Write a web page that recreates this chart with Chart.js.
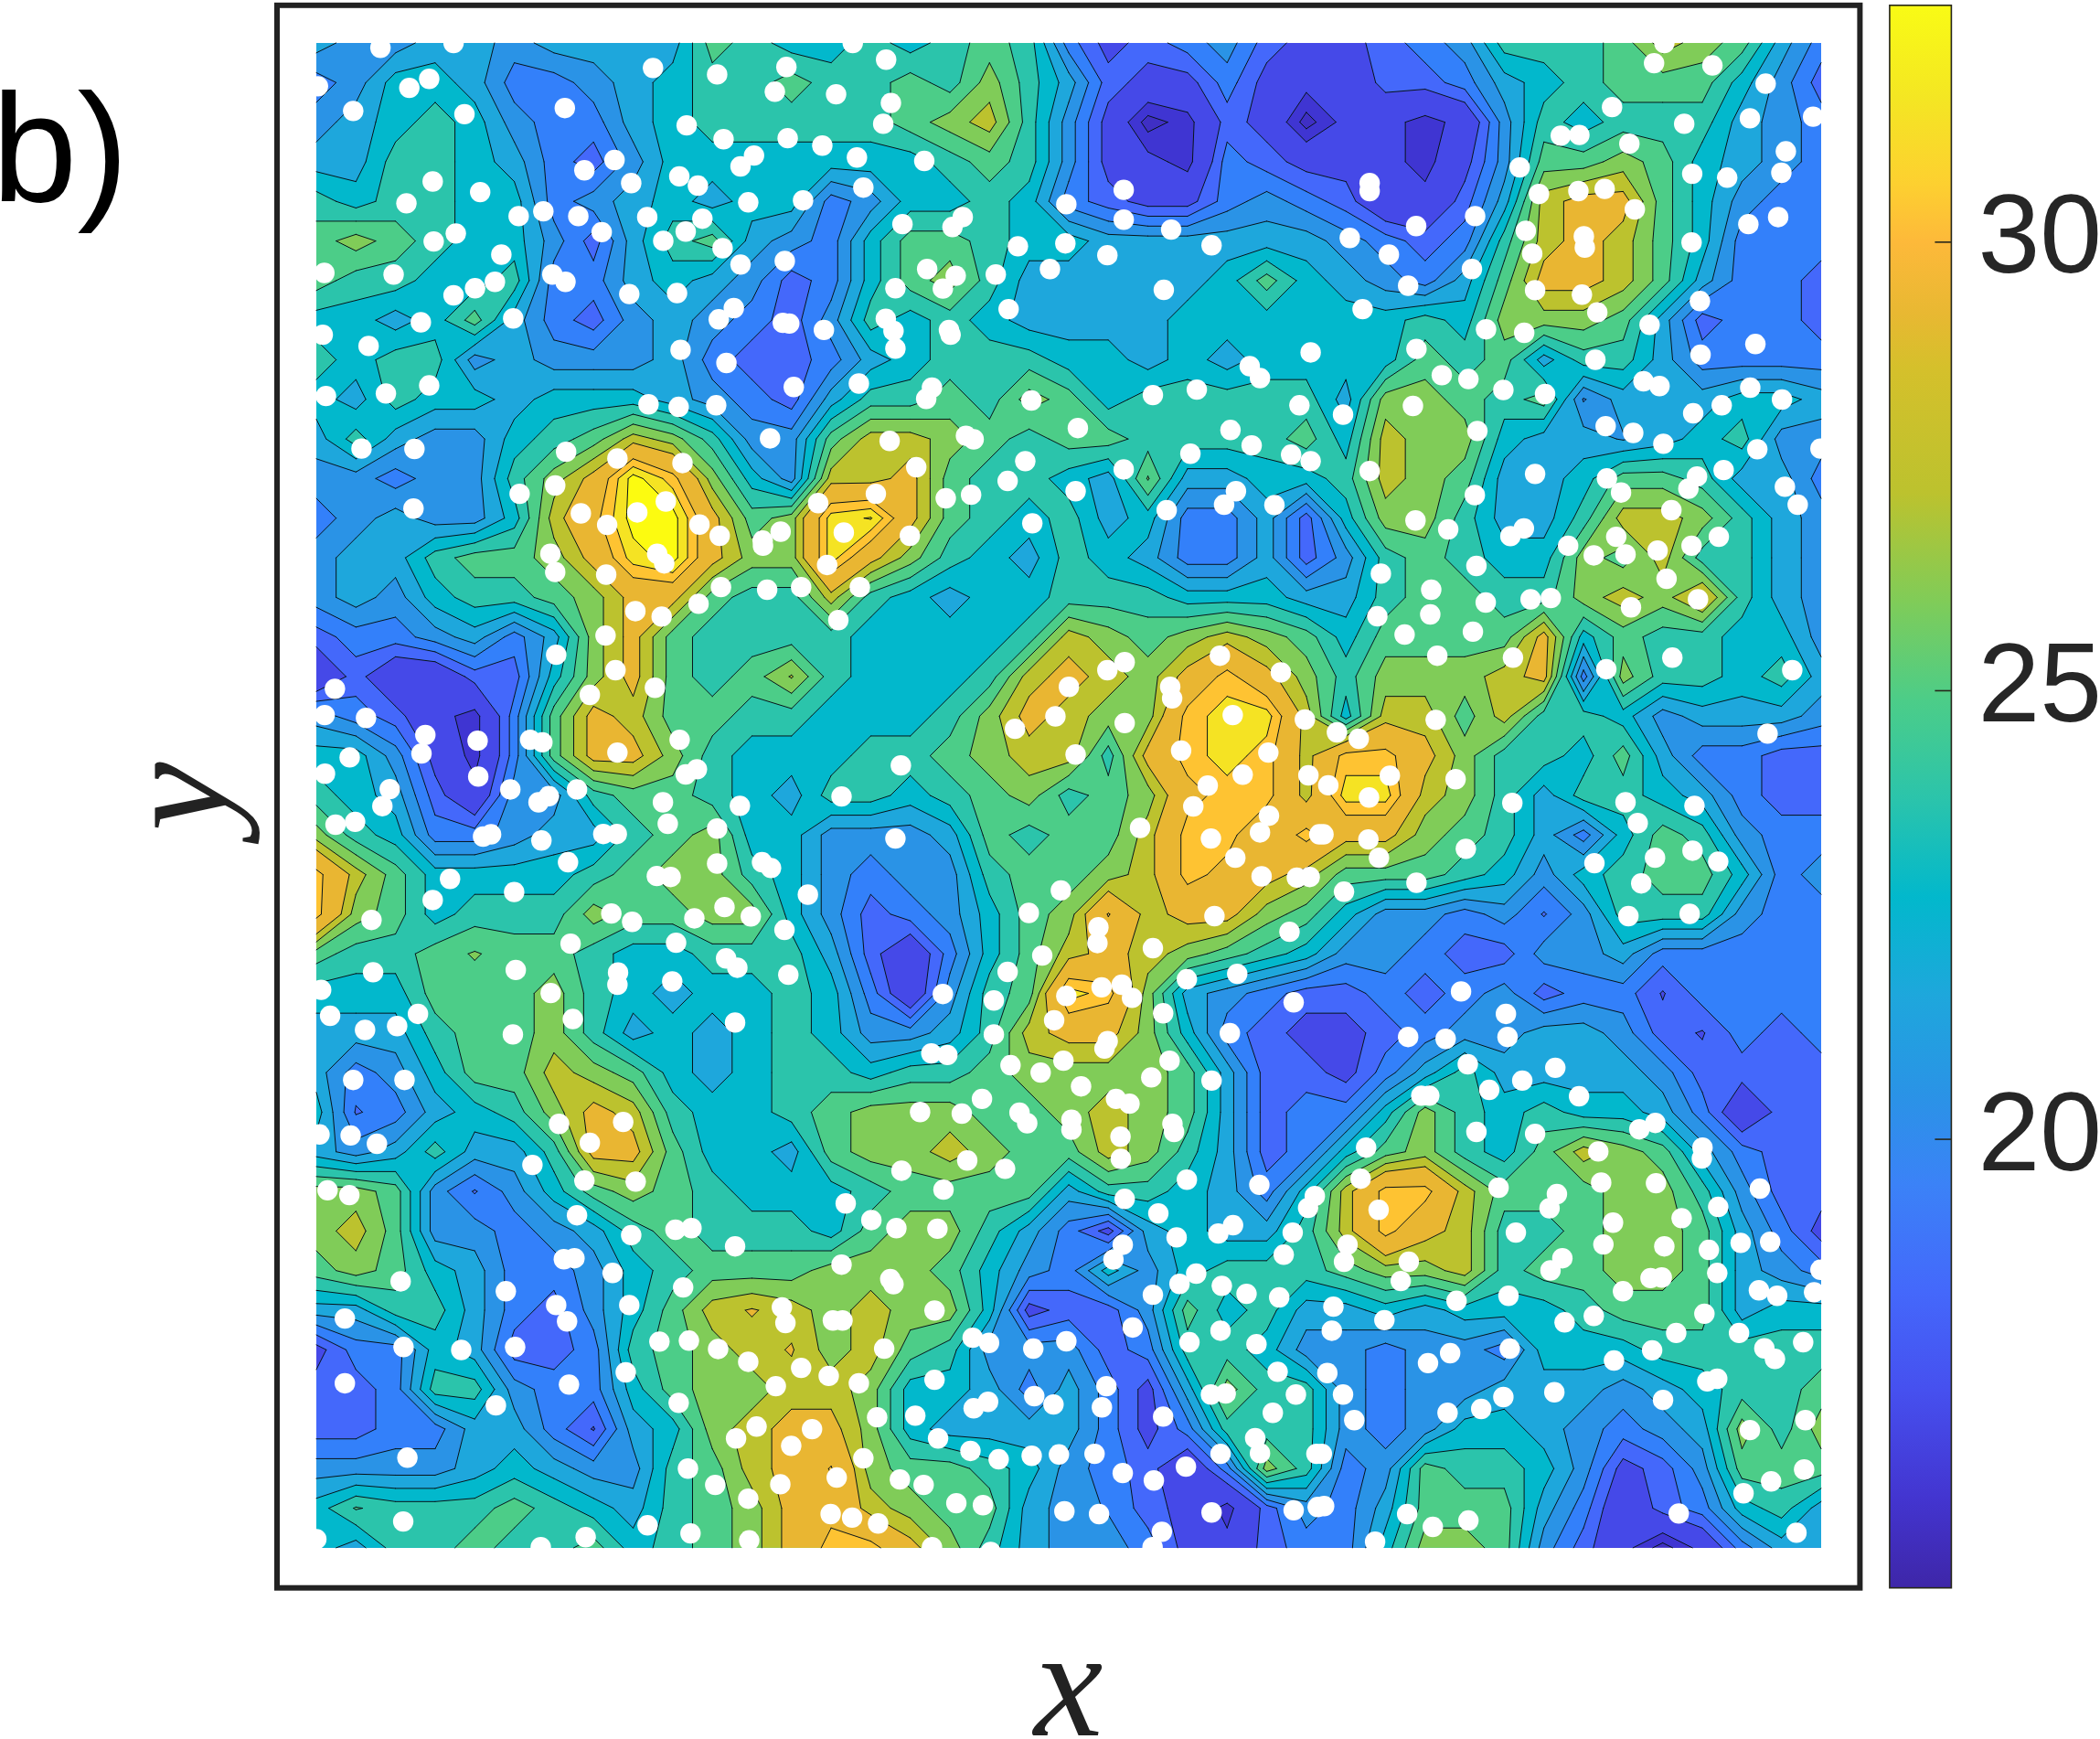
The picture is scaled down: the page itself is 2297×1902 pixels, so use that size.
<!DOCTYPE html>
<html>
<head>
<meta charset="utf-8">
<title>b)</title>
<style>
  html, body { margin: 0; padding: 0; background: #fff; }
  canvas { display: block; }
</style>
<script src="https://cdn.jsdelivr.net/npm/chart.js@4/dist/chart.umd.min.js"></script>
</head>
<body>
<canvas id="chart" width="2297" height="1902"></canvas>
<script>
/* =====================================
   Data
===================================== */
const gridPos = [0,123.5,247,370.5,494,617.5,741,864.5,988,1111.5,1235,1358.5,1482,1605.5,1729,1852.5,1976,2099.5,2223,2346.5,2470,2593.5,2717,2840.5,2964,3087.5,3211,3334.5,3458,3581.5,3705,3828.5,3952,4075.5,4199,4322.5,4446,4569.5,4693];

const surface = [
[22,21,21,22,22,21,22,22,22,22,25,24,23,23,24,23,24,25,24,20,18,19,20,21,19,18,18,19,20,21,24,24,24,25,27,26,25,22,20],
[20,21,23,23,22,20,20,21,22,23,24,24,25,24,24,25,24,26,24,22,19,18,18,20,18,17,17,19,19,20,22,23,24,25,25,25,23,21,19],
[21,22,23,24,23,21,20,20,22,23,24,24,24,24,24,25,26,27,24,21,18,15,16,19,18,15,17,17,16,17,21,24,23,24,24,24,22,21,20],
[22,22,24,24,23,22,20,19,21,23,23,23,23,23,23,23,24,25,24,21,18,17,16,20,19,18,18,17,16,18,21,25,25,26,25,23,22,21,20],
[24,23,24,24,23,23,20,21,22,23,22,23,23,20,21,23,23,24,23,20,19,18,18,20,21,20,19,17,17,19,22,27,28,28,25,23,21,20,20],
[25,26,25,24,23,23,21,19,22,24,25,22,21,20,23,25,25,24,23,23,22,22,22,22,22,22,21,20,19,20,24,27,28,27,25,23,20,20,20],
[25,24,24,23,23,24,20,20,22,23,22,21,19,20,23,25,26,24,22,22,22,22,22,23,25,23,22,21,20,22,25,28,28,27,25,22,20,20,19],
[23,23,22,23,25,22,20,19,21,22,21,20,19,21,24,23,24,23,22,22,22,22,23,23,23,23,23,23,24,23,26,26,26,25,22,19,20,20,19],
[24,23,24,24,21,22,21,21,21,22,20,19,19,20,22,23,24,24,24,23,23,22,23,22,23,23,23,23,25,24,25,22,24,24,22,20,20,20,20],
[23,22,24,23,23,22,23,23,23,22,21,20,19,22,24,24,25,24,26,25,23,24,24,24,24,24,22,26,26,25,24,25,20.4,22,22,22,23,23,22],
[22,24,22,21,21,23,24,25,27,26,24,21,21,25,27,27,26,25,24,25,25,24,24,24,24,25,23,27,26,26,23,22,22,21.4,22,23,24,21,21],
[21,21,20,21,21,24,26,28,32,30,26,23,21,27,27,28,25,24,24,23,22,25.6,22,22,23,23,24,27,26,25,22,22,23,25,25,24,22,22,20],
[20,21,22,21,21,23,27,29,32,32,28,25,26,31,31.6,28,25,24,23,24,22,23,20,20,22,19,23,26,26,24,22,22,24,27,27,26,24,22,21],
[21,22,22,24,25,25,26,28,31,32,28,26,26,31,28,26,24,23,22,24,23,22,20,20,22,19,21,24,25,24,23,23,26,25,27,24,24,22,21],
[21,22,21,23,24,24,25,26,28,28,25,24,24,27,24,23,22,23,23,24,24,24,23,23,23,22,22,24,25,25,24,24,26,27,26,28,24,22,21],
[19,20,20,21,22,20,22,26,28,25,24,24,24,24,23,23,23,23,24,27,26,25,26,27,26,25,23,25,25,25,25,28,23,25,24,24,23,23,21],
[17,19,17,17,19,19,23,26,28,25,24,25,26.6,24,23,23,23,24,27,28,27,26,28,30,28,26,24,26,26,26,27,28,20,26,24,24,23,24,22],
[21,20,19,17,16,20,25,28,27,25,25,24,24,23,23,23,24,26,28,27,26,26,30,31,31,27,23,27,27,25,27,24,24,23,21,22,22,22,21],
[23,23,21,18,16,20,25,28,28,26,24,23,23,23,24,24,25,26,27,27,24,28,30,31,30,27,30,30,28,26,24,24,23,25,22,20,20,19,19],
[24,23,22,19,17,21,21,24,25,25,24,23,22,24,24,23,24,25,26,24,25,26,29,30,30,27,31,31,27,26,24,22,24,24,23,22,20,19,19],
[26,24,23,20,20,21,22,22,24,25,26,23,23,21,21,21,22,25,24,25,25,27,30,30,28,30,28,28,26,25,24,22,20,23,25,24,21,20,20],
[30,27,25,23,23,23,23,24,25,26,26,24,23,21,20,21,21,24,25,25,26,27,30,29,28,27,25,25,25,24,23,21,23,24,25,25,23,20,21],
[30,26,25,23,24,24,24,26,25,25,26,26,23,21,19,20,21,23,25,26,29.6,27,28,28,26,25,23,21,21,20,21,19.4,21,24,24,24,21,20,20],
[25,24,24,25,25.6,25,25,24,23,23,24,24,24,22,19,17,20,23,25,27,28,27,26,25,24,23,21,21,20,19,19,21,21,22,20,20,20,20,20],
[23,23,23,25,25,25,26,24,23,22,23,23,24,23,20,17,21,24,25,31,30,26,22,21,20,19,19,20,19,20,21,19,20,20,18.4,20,20,20,20],
[22,22,22,24,25,25,26,24,22,23,22,23,24,23,21,21,22,24,27,28,28,26,23,20,19,18,18,19,20,21,21,22,22,21,19,18.4,20,19,20],
[22,20,21,23,25,25,27,26,25,23,22,23,24,24,23,24,24,25,26,26,26,26,25,22,19,19,18,20,22,24,22,22,22,22,21,19,19,19,19],
[23,19.4,20,22,23,24,26,28,27,24,23,23,24,25,26,26,26,25,25,26,27,26,25,22,19,20,20,23,26,24,23,24,23,23,22,20,17,19,19],
[22,21,22,24,22,22,24,28,28,25,23,23,22,25,26,26,27,26,25,25,27,26,24,22,19,20,23,25,26,24,23,25,27,26,25,22,20,19,19],
[26,26,25,21,19.4,21,23,25,26,25,24,23,23,23,24,25,25,25,25,22,24,24,23,22,20,23,27,30,30,27,25,25,25,26,26,24,21,19,19],
[26,27,25,21,21,20,21,22,24,25,24,24,24,23,25,26,26,24,22,20,18,22,23,22,22,24,27,30,28,27,24,24,25,26,26,25,22,20,18],
[25,26,25,23,22,20,20,21,23,24,25,25,25,26,26,26,25,23,21,20,23,21,23,24,24,24,25,26,26,27,24,25,25,26,26,25,22,21,20],
[22,22,24,24,22,20,19,21,23,25,27,27.6,27,26,27,26,26,23,18,19,19,21,25,23,24,22,22,23,22,23,23,23,24,25,25,25,22,23,23],
[18,20,20,23,22,19,19,20,24,25,26,27,27.6,26,27,25,24,21,21,21,19,20,24,24,23,21,21,20,21,21,20,23,23,23,24,24,24,24,24],
[19,19,20,24,24,21,20,20,23,25,26,26,27,27,26,23,23,22,20,22,20,18,22,26,24,24,21,20,21,21,22,22,22,21,22,23,24,24,25],
[19,19,20,20,22,22,20,18.4,22,23,26,27,28,28,26,23,22,22,22,22,20,18,20,24,24,24,21,20,21,23,23,22,21,20,21,22,26,24,26],
[21,21,21,21,22,23,22,21,21,24,25,27,28,29.6,26,25,25,24,23,21,20,19,17,20,26,24,20,21,25,24,24,23,21,18,19,21,25,25,25],
[23,24.6,24,24,24,25,24,23,22,24,25,26,28,29,27,26,25,25,22,21,20.4,19,18,16,19,21,20,22,25,25,25,22,20,17,19,20,23,24,22],
[23,22,24,24,25,24,24,25,23,24,25,26,28,30,30,28,26,24,22,21,21,20,18,17,19,20,20,23,26,26,25,21,19,17,15,17,20,22,22]
];

// contour levels and the flat colour of each band (one more colour than levels)
const levels = [15.5,16.5,18.5,19.5,20.5,21.5,22.5,23.5,24.5,25.5,26.5,27.5,29.5,30.5,31.5];
const bandColors = ['#3f2fc4','#3f35d2','#4549e8','#4468fb','#3380fa','#2a93e6','#1ea7dc','#02b8cc','#2bc4ab','#4ccd88','#80cc58','#bcc22e','#e9b632','#fec332','#f5e323','#fcfb10'];

// colour bar
const barTicks = [20,25,30];
const barValues = [15,16,17.2,18.3,19.5,20.5,21.6,22.7,23.8,24.9,26,27.2,28.6,29.2,30,30.65,31.6,32.64];
const barColors = ['#3e26a8','#4335d0','#4650ef','#4468fb','#3b82f7','#2a93e6','#1ea7dc','#02b8cc','#2bc4ab','#4ccd88','#80cc58','#bcc22e','#d5c02b','#e8b832','#fdb93a','#fdd030','#f4e623','#f9fb15'];

// white sample points, read tile by tile: [x, y] inside a tile of tileSize units
const tileSize = 1568;
const dots00 = [[200,15],[428,0],[1050,78],[1250,98],[1466,75],[5,135],[115,212],[290,140],[352,112],[462,222],[775,203],[1155,257],[1430,152],[1270,300],[1470,297],[1365,351],[1323,385],[930,365],[836,397],[982,437],[1132,416],[1190,445],[363,432],[281,500],[511,465],[1347,497],[1518,491],[631,540],[708,525],[817,540],[1032,543],[1204,548],[1152,588],[890,590],[435,594],[366,619],[1082,617],[1267,640],[577,660],[1323,691],[1461,680],[25,717],[241,722],[736,722],[777,745],[557,745],[495,765],[428,787],[976,783],[1125,780],[1302,827],[1255,862],[614,859],[326,871],[20,910],[163,945],[1455,873],[1475,875],[1136,957],[1279,998],[352,1068],[217,1093],[30,1101],[1489,1073],[1036,1127],[1130,1135],[1247,1130],[141,1265],[306,1266],[1415,1233],[779,1275],[939,1296],[1142,1310],[745,1380],[634,1406],[1090,1430],[1001,1464],[825,1467],[1565,1435],[907,1503],[303,1452],[1195,1502],[1258,1537],[1448,1524],[1392,1552]];
const dots01 = [[105,0],[209,52],[53,160],[224,187],[200,252],[10,320],[118,357],[328,368],[138,451],[771,503],[950,458],[950,551],[1098,582],[1224,631],[260,565],[448,543],[416,574],[620,634],[768,625],[899,662],[720,705],[337,705],[426,726],[386,766],[551,722],[238,765],[591,830],[1075,770],[208,860],[232,898],[15,895],[405,895],[410,910],[238,953],[124,1062],[1533,965],[1343,1008],[1375,1045],[1041,1098],[1178,1081],[352,1075],[334,1110],[662,1115],[1498,1130],[807,1201],[458,1225],[482,1236],[220,1241],[1283,1207],[1349,1255],[1158,1281],[1472,1284],[1533,1304],[643,1304],[588,1366],[303,1323],[950,1330],[800,1398],[177,1406],[395,1420],[474,1409],[1300,1398],[1263,1440],[1420,1441],[1084,1457],[665,1498],[77,1527],[283,1537]];
const dots02 = [[1068,0],[1036,63],[1218,70],[1384,127],[905,200],[1130,252],[1335,235],[1532,230],[745,289],[803,287],[959,314],[1447,338],[617,388],[1433,405],[1155,408],[1264,420],[149,437],[149,462],[677,471],[800,462],[882,455],[976,519],[478,540],[1423,543],[1330,565],[294,571],[87,608],[636,586],[817,603],[820,638],[209,660],[656,657],[1153,622],[468,705],[269,757],[665,771],[811,785],[1179,805],[127,830],[859,840],[1022,879],[512,893],[631,904],[1352,939],[1181,972],[295,954],[853,988],[1003,1055],[1053,1070],[374,1036],[457,1048],[566,1082],[696,1095],[1336,1075],[1435,1112],[1247,1130],[284,1132],[1158,1155],[66,1159],[885,1195],[971,1216],[485,1210],[1065,1250],[1358,1267],[1555,1265],[1253,1332],[665,1344],[149,1335],[889,1358],[1170,1352],[1143,1390],[933,1402],[477,1410],[1444,1384],[1484,1440],[1090,1457],[292,1489],[394,1517],[630,1514],[588,1538],[918,1540],[1238,1540]];
const dots10 = [[730,25],[745,82],[1063,25],[1085,55],[904,90],[1393,0],[1262,129],[1406,137],[1512,129],[1192,181],[995,204],[1077,221],[902,280],[748,340],[933,388],[1056,443],[58,446],[853,465],[26,528],[155,537],[340,590],[328,648],[503,608],[667,605],[705,613],[1133,605],[104,660],[939,645],[27,711],[505,720],[1187,697],[1152,713],[229,759],[206,812],[605,760],[725,781],[693,800],[813,760],[1081,800],[1321,811],[1096,867],[60,870],[121,861],[1250,882],[545,900],[520,907],[895,899],[937,899],[702,919],[785,987],[1250,991],[1390,987],[1418,1005],[1062,1030],[1105,1033],[417,1039],[617,1080],[363,1105],[1533,1088],[920,1147],[985,1173],[172,1167],[1273,1127],[1179,1162],[1355,1156],[1460,1198],[793,1241],[1122,1238],[1278,1287],[1313,1316],[177,1330],[622,1323],[941,1331],[939,1369],[1472,1338],[1110,1359],[15,1385],[731,1395],[43,1466],[800,1476],[317,1460],[1306,1487],[152,1510],[252,1498],[613,1524]];
const dots11 = [[25,60],[127,129],[60,232],[255,685],[70,782],[953,363],[899,388],[1095,440],[1101,476],[1250,343],[1440,395],[779,440],[737,532],[611,571],[953,553],[1290,528],[1515,542],[1129,639],[800,651],[1401,645],[1321,714],[1526,716],[1212,748],[1167,813],[1403,842],[1375,894],[1001,880],[238,913],[1222,913],[1560,900],[1298,973],[1380,1031],[1490,1035],[1530,1033],[754,1075],[654,1145],[1233,1155],[1467,1204],[871,1190],[868,1239],[1041,1255],[696,1278],[588,1329],[1304,1335],[944,1369],[1147,1352],[881,1377],[976,1410],[771,1404],[386,1398],[545,1418],[1480,1424],[1073,1458],[733,1480],[545,1524],[1281,1520],[900,1545]];
const dots12 = [[184,87],[482,63],[341,137],[173,220],[338,214],[511,177],[651,167],[714,163],[258,277],[471,268],[360,343],[596,349],[1093,349],[887,385],[1467,388],[355,543],[47,582],[115,602],[1390,586],[212,717],[417,728],[20,747],[147,785],[594,802],[947,800],[1162,811],[985,865],[5,900],[145,916],[178,973],[449,945],[850,990],[1156,951],[1039,973],[1236,985],[996,1053],[295,1051],[69,1079],[956,1155],[1147,1148],[434,1390],[574,1460],[579,1532],[269,1532],[386,1538],[768,0],[848,30],[947,27],[1047,15],[1153,0],[1075,103],[964,192],[1173,167]];
const dots20 = [[115,98],[275,98],[10,268],[107,271],[189,297],[757,235],[957,229],[853,294],[674,363],[836,412],[996,415],[35,442],[103,457],[813,520],[982,582],[1120,565],[1170,560],[1306,617],[772,657],[805,654],[924,700],[263,726],[1144,745],[591,757],[748,800],[976,800],[782,851],[1452,807],[1463,856],[89,842],[1070,914],[1162,911],[1253,937],[272,931],[452,940],[620,931],[1347,977],[1512,996],[965,1010],[89,1044],[788,1048],[1433,1053],[560,1113],[1130,1105],[1373,1179],[1309,1216],[1546,1187],[1481,1239],[284,1276],[1159,1310],[1244,1361],[1447,1359],[1347,1404],[271,1475],[1033,1487],[1167,1512],[840,1524],[1350,1534],[700,1555],[0,1530]];
const dots21 = [[350,15],[400,20],[597,52],[691,75],[762,38],[890,0],[1093,38],[1036,90],[817,118],[1224,100],[508,157],[926,157],[968,172],[315,198],[445,203],[625,200],[649,233],[787,222],[787,253],[1102,235],[1107,260],[940,275],[941,344],[462,349],[257,381],[580,375],[388,440],[1147,409],[1373,425],[953,469],[83,483],[1058,514],[163,535],[241,560],[369,562],[1115,589],[1291,551],[1245,577],[1477,574],[1546,460],[1525,497],[947,612],[918,658],[1449,643],[70,674],[1176,702],[1124,734],[1256,740],[1333,765],[1435,776],[1041,768],[222,719],[232,735],[360,817],[978,870],[43,848],[73,848],[1252,880],[1155,916],[1364,922],[479,902],[530,918],[771,913],[668,936],[203,936],[1430,1008],[30,1021],[124,1044],[360,1033],[896,1053],[1222,1079],[1268,1076],[671,1084],[731,1110],[527,1102],[482,1122],[882,1119],[1415,1136],[1487,1079],[1073,1148],[181,1150],[300,1145],[371,1216],[1360,1215],[1375,1262],[472,1255],[560,1281],[663,1270],[748,1266],[859,1264],[1252,1264],[1551,1264],[138,1278],[947,1324],[1144,1304],[1044,1347],[55,1338],[252,1344],[326,1361],[428,1418],[511,1424],[765,1443],[873,1452],[1224,1447],[1480,1440],[1555,1430],[36,1452],[103,1463],[184,1481],[1069,1507],[352,1555],[1040,1555],[535,1570]];
const dots22 = [[455,49],[728,60],[625,100],[522,129],[802,149],[310,147],[335,147],[1040,232],[990,252],[482,260],[665,266],[138,309],[862,321],[1187,309],[1185,343],[121,406],[871,418],[1042,420],[551,434],[1366,437],[733,454],[710,498],[177,503],[1122,529],[1236,494],[908,543],[605,574],[1068,617],[1306,606],[1398,603],[80,612],[878,611],[1207,628],[750,654],[271,665],[69,665],[713,692],[1233,700],[1025,716],[1060,714],[246,725],[939,757],[1555,690],[1363,754],[1420,771],[1535,760],[582,771],[420,787],[36,805],[848,834],[757,854],[1193,827],[195,847],[31,880],[1105,887],[1301,887],[1501,916],[1030,941],[586,936],[400,950],[1380,935],[1413,968],[911,973],[331,981],[17,1012],[1233,1030],[1202,1038],[1064,1096],[725,1072],[566,1087],[66,1079],[392,1136],[497,1124],[101,1159],[1335,1190],[1508,1159],[0,1264],[1504,1313],[1401,1350],[1315,1387],[7,1427],[266,1452],[457,1472],[346,1492],[1113,1450],[166,1538],[1480,1510]];
const dotTiles = [[dots00,dots01,dots02],[dots10,dots11,dots12],[dots20,dots21,dots22]];

/* =====================================
   Filled contours
===================================== */
function cellCorners(xs, ys, i, j) {
  return [
    { x: xs[j], y: ys[i], v: surface[i][j] },
    { x: xs[j + 1], y: ys[i], v: surface[i][j + 1] },
    { x: xs[j + 1], y: ys[i + 1], v: surface[i + 1][j + 1] },
    { x: xs[j], y: ys[i + 1], v: surface[i + 1][j] }
  ];
}

function edgeHit(p, q, level) {
  const t = (level - p.v) / (q.v - p.v);
  return [p.x + t * (q.x - p.x), p.y + t * (q.y - p.y)];
}

// parts of one grid cell where the value is at least level
function clipCell(c, level) {
  const high = c.map(p => p.v >= level);
  const saddle = high[0] === high[2] && high[1] === high[3] && high[0] !== high[1];
  const mean = (c[0].v + c[1].v + c[2].v + c[3].v) / 4;
  if (saddle && mean < level) {
    // two separate corners
    const polys = [];
    for (let k = 0; k < 4; k++) {
      if (!high[k]) continue;
      const prev = c[(k + 3) % 4];
      const next = c[(k + 1) % 4];
      polys.push([edgeHit(prev, c[k], level), [c[k].x, c[k].y], edgeHit(c[k], next, level)]);
    }
    return polys;
  }
  const out = [];
  for (let k = 0; k < 4; k++) {
    const q = c[(k + 1) % 4];
    if (high[k]) out.push([c[k].x, c[k].y]);
    if (high[k] !== (q.v >= level)) out.push(edgeHit(c[k], q, level));
  }
  return out.length >= 3 ? [out] : [];
}

// line pieces of one level inside one cell
function cellSegments(c, level) {
  const high = c.map(p => p.v >= level);
  const hits = [];
  for (let k = 0; k < 4; k++) {
    const n = (k + 1) % 4;
    if (high[k] !== high[n]) hits.push(edgeHit(c[k], c[n], level));
  }
  if (hits.length === 2) return [[hits[0], hits[1]]];
  if (hits.length !== 4) return [];
  const mean = (c[0].v + c[1].v + c[2].v + c[3].v) / 4;
  const cutFirstAndThird = high[0] === (mean < level);
  return cutFirstAndThird
    ? [[hits[0], hits[3]], [hits[1], hits[2]]]
    : [[hits[0], hits[1]], [hits[2], hits[3]]];
}

const contourPlugin = {
  id: 'contours',
  beforeDatasetsDraw(chart) {
    const ctx = chart.ctx;
    const xs = gridPos.map(v => chart.scales.x.getPixelForValue(v));
    const ys = gridPos.map(v => chart.scales.y.getPixelForValue(v));
    const last = gridPos.length - 1;

    ctx.save();
    ctx.fillStyle = bandColors[0];
    ctx.fillRect(xs[0], ys[0], xs[last] - xs[0], ys[last] - ys[0]);

    levels.forEach((level, n) => {
      ctx.beginPath();
      for (let i = 0; i < last; i++) {
        for (let j = 0; j < last; j++) {
          clipCell(cellCorners(xs, ys, i, j), level).forEach(poly => {
            ctx.moveTo(poly[0][0], poly[0][1]);
            for (let k = 1; k < poly.length; k++) ctx.lineTo(poly[k][0], poly[k][1]);
            ctx.closePath();
          });
        }
      }
      ctx.fillStyle = bandColors[n + 1];
      ctx.fill();
    });

    // contour lines
    ctx.strokeStyle = '#08141a';
    ctx.lineWidth = 1;
    ctx.lineCap = 'round';
    levels.forEach(level => {
      ctx.beginPath();
      for (let i = 0; i < last; i++) {
        for (let j = 0; j < last; j++) {
          cellSegments(cellCorners(xs, ys, i, j), level).forEach(seg => {
            ctx.moveTo(seg[0][0], seg[0][1]);
            ctx.lineTo(seg[1][0], seg[1][1]);
          });
        }
      }
      ctx.stroke();
    });
    ctx.restore();
  }
};

/* =====================================
   Frame, colour bar and panel letter
===================================== */
const decorPlugin = {
  id: 'decor',
  afterDraw(chart) {
    const ctx = chart.ctx;
    const area = chart.chartArea;
    const bar = chart.scales.bar;
    const barLeft = area.right + 32.5;
    const barRight = area.right + 100;
    const top = bar.getPixelForValue(bar.max);
    const bottom = bar.getPixelForValue(bar.min);

    ctx.save();
    ctx.strokeStyle = '#222222';
    ctx.lineWidth = 6;
    ctx.strokeRect(area.left, area.top, area.right - area.left, area.bottom - area.top);

    const grad = ctx.createLinearGradient(0, bottom, 0, top);
    barValues.forEach((v, i) => grad.addColorStop((v - bar.min) / (bar.max - bar.min), barColors[i]));
    ctx.fillStyle = grad;
    ctx.fillRect(barLeft, top, barRight - barLeft, bottom - top);
    ctx.strokeStyle = '#26261a';
    ctx.lineWidth = 1.6;
    ctx.strokeRect(barLeft, top, barRight - barLeft, bottom - top);
    barTicks.forEach(t => {
      const y = bar.getPixelForValue(t);
      ctx.beginPath();
      ctx.moveTo(barRight - 18, y);
      ctx.lineTo(barRight, y);
      ctx.stroke();
    });

    ctx.fillStyle = '#000000';
    ctx.font = '168px "Liberation Sans"';
    ctx.textAlign = 'left';
    ctx.textBaseline = 'alphabetic';
    ctx.fillText('b)', -9, 220);
    ctx.restore();
  }
};

/* =====================================
   Chart
===================================== */
const dotPoints = [];
dotTiles.forEach((row, r) => row.forEach((tile, c) => tile.forEach(d => {
  dotPoints.push({ x: d[0] + c * tileSize, y: d[1] + r * tileSize });
})));

// tick padding of the bar axis must not push the plot area in
function noPadding(s) {
  s.paddingTop = 0;
  s.paddingBottom = 0;
  s.paddingLeft = 0;
  s.paddingRight = 0;
}

new Chart(document.getElementById('chart'), {
  type: 'scatter',
  data: {
    datasets: [{
      data: dotPoints,
      pointRadius: 11.2,
      pointBackgroundColor: '#ffffff',
      pointBorderWidth: 0,
      showLine: false
    }]
  },
  plugins: [contourPlugin, decorPlugin],
  options: {
    responsive: false,
    animation: false,
    devicePixelRatio: 1,
    layout: { autoPadding: false, padding: { top: 5.8, left: 0, right: 0, bottom: 0 } },
    plugins: { legend: { display: false }, tooltip: { enabled: false }, title: { display: false } },
    scales: {
      x: {
        type: 'linear',
        min: -122.6,
        max: 4814,
        grid: { display: false },
        border: { display: false },
        ticks: { display: false },
        afterFit: s => { s.height = 165.3; noPadding(s); },
        title: {
          display: true,
          text: 'x',
          color: '#222222',
          font: { family: '"Liberation Serif"', style: 'italic', size: 170, lineHeight: 1 },
          padding: { top: 0, bottom: -36 }
        }
      },
      y: {
        type: 'linear',
        reverse: true,
        min: -117.5,
        max: 4818,
        grid: { display: false },
        border: { display: false },
        ticks: { display: false },
        afterFit: s => { s.width = 303; noPadding(s); },
        title: {
          display: true,
          text: 'y',
          color: '#222222',
          font: { family: '"Liberation Serif"', style: 'italic', size: 170, lineHeight: 1 },
          padding: { top: 117, bottom: 0 }
        }
      },
      bar: {
        type: 'linear',
        position: 'right',
        min: 15,
        max: 32.64,
        grid: { display: false, drawTicks: false },
        border: { display: false },
        afterBuildTicks: s => { s.ticks = barTicks.map(v => ({ value: v })); },
        afterFit: s => { s.width = 262.6; noPadding(s); },
        ticks: {
          padding: 129,
          color: '#262626',
          autoSkip: false,
          maxRotation: 0,
          font: { family: '"Liberation Sans"', size: 122 }
        }
      }
    }
  }
});
</script>
</body>
</html>
